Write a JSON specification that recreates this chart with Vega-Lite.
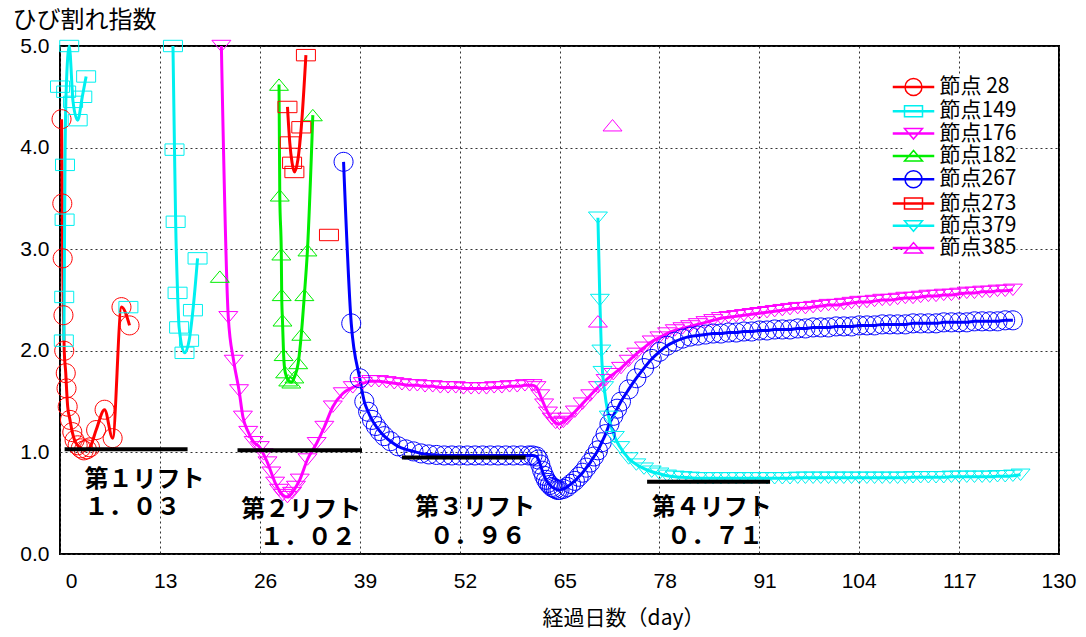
{
"$schema": "https://vega.github.io/schema/vega-lite/v6.json",
"width": 999, "height": 508,
"autosize": "none",
"padding": {"left": 60, "top": 46, "right": 27, "bottom": 83},
"background": "white",
"config": {
 "view": {"stroke": "#000", "strokeWidth": 2},
 "axis": {"domain": false, "ticks": false, "gridColor": "#333", "gridDash": [2,3], "gridWidth": 1, "gridOpacity": 1, "labelFont": "Liberation Sans", "labelFontSize": 21, "labelColor": "#000", "titleFont": "Noto Sans CJK JP", "titleFontWeight": "normal", "titleColor": "#000"}
},
"datasets": {
 "pts": [
  {"s":"節点 28","g":"28a","day":0.2,"value":4.28},{"s":"節点 28","g":"28a","day":0.3,"value":3.45},{"s":"節点 28","g":"28a","day":0.35,"value":2.91},{"s":"節点 28","g":"28a","day":0.45,"value":2.35},{"s":"節点 28","g":"28a","day":0.55,"value":2.0},{"s":"節点 28","g":"28a","day":0.75,"value":1.78},{"s":"節点 28","g":"28a","day":0.85,"value":1.63},{"s":"節点 28","g":"28a","day":1.0,"value":1.45},{"s":"節点 28","g":"28a","day":1.3,"value":1.32},{"s":"節点 28","g":"28a","day":1.6,"value":1.2},{"s":"節点 28","g":"28a","day":1.9,"value":1.12},{"s":"節点 28","g":"28a","day":2.3,"value":1.07},{"s":"節点 28","g":"28a","day":2.7,"value":1.04},{"s":"節点 28","g":"28a","day":3.1,"value":1.02},{"s":"節点 28","g":"28a","day":3.5,"value":1.03},{"s":"節点 28","g":"28a","day":3.9,"value":1.05},{"s":"節点 28","g":"28a","day":4.7,"value":1.22},{"s":"節点 28","g":"28a","day":5.8,"value":1.42},{"s":"節点 28","g":"28a","day":6.85,"value":1.14},{"s":"節点 28","g":"28a","day":8.0,"value":2.43},{"s":"節点 28","g":"28a","day":9.05,"value":2.25},
  {"s":"節点149","g":"149a","day":0.5,"value":2.1},{"s":"節点149","g":"149a","day":0.55,"value":2.53},{"s":"節点149","g":"149a","day":0.6,"value":3.29},{"s":"節点149","g":"149a","day":0.65,"value":3.83},{"s":"節点149","g":"149a","day":0.8,"value":4.55},{"s":"節点149","g":"149a","day":1.2,"value":5.0},{"s":"節点149","g":"149a","day":1.7,"value":4.45},{"s":"節点149","g":"149a","day":2.3,"value":4.27},{"s":"節点149","g":"149a","day":2.9,"value":4.5},{"s":"節点149","g":"149a","day":3.4,"value":4.7},
  {"s":"節点149","g":"149b","day":0.0,"value":4.6},
  {"s":"節点149","g":"149c","day":8.9,"value":2.43},
  {"s":"節点149","g":"149d","day":14.7,"value":5.0},{"s":"節点149","g":"149d","day":14.9,"value":3.98},{"s":"節点149","g":"149d","day":15.05,"value":3.27},{"s":"節点149","g":"149d","day":15.3,"value":2.57},{"s":"節点149","g":"149d","day":15.5,"value":2.23},{"s":"節点149","g":"149d","day":16.2,"value":1.98},{"s":"節点149","g":"149d","day":16.8,"value":2.1},{"s":"節点149","g":"149d","day":17.3,"value":2.4},{"s":"節点149","g":"149d","day":17.9,"value":2.91},
  {"s":"節点176","g":"176a","day":21.0,"value":5.0},{"s":"節点176","g":"176a","day":21.9,"value":2.33},{"s":"節点176","g":"176a","day":22.6,"value":1.9},{"s":"節点176","g":"176a","day":23.3,"value":1.61},{"s":"節点176","g":"176a","day":23.8,"value":1.35},{"s":"節点176","g":"176a","day":24.5,"value":1.2},{"s":"節点176","g":"176a","day":25.2,"value":1.1},{"s":"節点176","g":"176a","day":26.0,"value":1.05},{"s":"節点176","g":"176a","day":26.5,"value":0.98},{"s":"節点176","g":"176a","day":27.0,"value":0.9},{"s":"節点176","g":"176a","day":27.5,"value":0.8},{"s":"節点176","g":"176a","day":28.0,"value":0.7},{"s":"節点176","g":"176a","day":28.5,"value":0.63},{"s":"節点176","g":"176a","day":29.0,"value":0.58},{"s":"節点176","g":"176a","day":29.6,"value":0.56},{"s":"節点176","g":"176a","day":30.2,"value":0.6},{"s":"節点176","g":"176a","day":30.7,"value":0.66},{"s":"節点176","g":"176a","day":31.2,"value":0.73},{"s":"節点176","g":"176a","day":32.2,"value":0.93},{"s":"節点176","g":"176a","day":33.4,"value":1.09},{"s":"節点176","g":"176a","day":34.4,"value":1.25},{"s":"節点176","g":"176a","day":35.5,"value":1.45},{"s":"節点176","g":"176a","day":36.8,"value":1.58},{"s":"節点176","g":"176a","day":38.1,"value":1.64},{"s":"節点176","g":"176a","day":39.4,"value":1.68},{"s":"節点176","g":"176a","day":40.5,"value":1.7},{"s":"節点176","g":"176a","day":41.5,"value":1.7},{"s":"節点176","g":"176a","day":42.5,"value":1.69},{"s":"節点176","g":"176a","day":43.5,"value":1.68},{"s":"節点176","g":"176a","day":44.5,"value":1.67},{"s":"節点176","g":"176a","day":45.5,"value":1.66},{"s":"節点176","g":"176a","day":46.5,"value":1.66},{"s":"節点176","g":"176a","day":47.5,"value":1.65},{"s":"節点176","g":"176a","day":48.5,"value":1.65},{"s":"節点176","g":"176a","day":49.5,"value":1.64},{"s":"節点176","g":"176a","day":50.5,"value":1.64},{"s":"節点176","g":"176a","day":51.5,"value":1.64},{"s":"節点176","g":"176a","day":52.5,"value":1.63},{"s":"節点176","g":"176a","day":53.5,"value":1.63},{"s":"節点176","g":"176a","day":54.5,"value":1.63},{"s":"節点176","g":"176a","day":55.5,"value":1.63},{"s":"節点176","g":"176a","day":56.5,"value":1.64},{"s":"節点176","g":"176a","day":57.5,"value":1.64},{"s":"節点176","g":"176a","day":58.5,"value":1.65},{"s":"節点176","g":"176a","day":59.5,"value":1.65},{"s":"節点176","g":"176a","day":60.5,"value":1.66},{"s":"節点176","g":"176a","day":61.5,"value":1.66},{"s":"節点176","g":"176a","day":62.0,"value":1.64},{"s":"節点176","g":"176a","day":62.5,"value":1.56},{"s":"節点176","g":"176a","day":63.0,"value":1.47},{"s":"節点176","g":"176a","day":63.5,"value":1.39},{"s":"節点176","g":"176a","day":64.0,"value":1.33},{"s":"節点176","g":"176a","day":64.5,"value":1.29},{"s":"節点176","g":"176a","day":65.0,"value":1.28},{"s":"節点176","g":"176a","day":65.5,"value":1.3},{"s":"節点176","g":"176a","day":66.0,"value":1.33},{"s":"節点176","g":"176a","day":67.0,"value":1.4},{"s":"節点176","g":"176a","day":68.0,"value":1.48},{"s":"節点176","g":"176a","day":69.0,"value":1.56},{"s":"節点176","g":"176a","day":70.0,"value":1.64},{"s":"節点176","g":"176a","day":71.0,"value":1.71},{"s":"節点176","g":"176a","day":72.0,"value":1.77},{"s":"節点176","g":"176a","day":73.0,"value":1.83},{"s":"節点176","g":"176a","day":74.0,"value":1.9},{"s":"節点176","g":"176a","day":75.0,"value":1.97},{"s":"節点176","g":"176a","day":76.0,"value":2.03},{"s":"節点176","g":"176a","day":77.0,"value":2.09},{"s":"節点176","g":"176a","day":78.0,"value":2.13},{"s":"節点176","g":"176a","day":79.0,"value":2.17},{"s":"節点176","g":"176a","day":80.0,"value":2.2},{"s":"節点176","g":"176a","day":81.0,"value":2.22},{"s":"節点176","g":"176a","day":82.0,"value":2.24},{"s":"節点176","g":"176a","day":83.0,"value":2.26},{"s":"節点176","g":"176a","day":84.0,"value":2.28},{"s":"節点176","g":"176a","day":85.0,"value":2.3},{"s":"節点176","g":"176a","day":86.0,"value":2.32},{"s":"節点176","g":"176a","day":87.0,"value":2.33},{"s":"節点176","g":"176a","day":88.0,"value":2.34},{"s":"節点176","g":"176a","day":89.0,"value":2.35},{"s":"節点176","g":"176a","day":90.0,"value":2.36},{"s":"節点176","g":"176a","day":91.0,"value":2.37},{"s":"節点176","g":"176a","day":92.0,"value":2.38},{"s":"節点176","g":"176a","day":93.0,"value":2.39},{"s":"節点176","g":"176a","day":94.0,"value":2.4},{"s":"節点176","g":"176a","day":95.0,"value":2.41},{"s":"節点176","g":"176a","day":96.0,"value":2.42},{"s":"節点176","g":"176a","day":97.0,"value":2.42},{"s":"節点176","g":"176a","day":98.0,"value":2.43},{"s":"節点176","g":"176a","day":99.0,"value":2.44},{"s":"節点176","g":"176a","day":100.0,"value":2.45},{"s":"節点176","g":"176a","day":101.0,"value":2.45},{"s":"節点176","g":"176a","day":102.0,"value":2.46},{"s":"節点176","g":"176a","day":103.0,"value":2.47},{"s":"節点176","g":"176a","day":104.0,"value":2.48},{"s":"節点176","g":"176a","day":105.0,"value":2.48},{"s":"節点176","g":"176a","day":106.0,"value":2.49},{"s":"節点176","g":"176a","day":107.0,"value":2.5},{"s":"節点176","g":"176a","day":108.0,"value":2.5},{"s":"節点176","g":"176a","day":109.0,"value":2.51},{"s":"節点176","g":"176a","day":110.0,"value":2.52},{"s":"節点176","g":"176a","day":111.0,"value":2.52},{"s":"節点176","g":"176a","day":112.0,"value":2.53},{"s":"節点176","g":"176a","day":113.0,"value":2.54},{"s":"節点176","g":"176a","day":114.0,"value":2.54},{"s":"節点176","g":"176a","day":115.0,"value":2.55},{"s":"節点176","g":"176a","day":116.0,"value":2.55},{"s":"節点176","g":"176a","day":117.0,"value":2.56},{"s":"節点176","g":"176a","day":118.0,"value":2.57},{"s":"節点176","g":"176a","day":119.0,"value":2.57},{"s":"節点176","g":"176a","day":120.0,"value":2.58},{"s":"節点176","g":"176a","day":121.0,"value":2.58},{"s":"節点176","g":"176a","day":122.0,"value":2.59},{"s":"節点176","g":"176a","day":123.0,"value":2.59},{"s":"節点176","g":"176a","day":124.0,"value":2.6},
  {"s":"節点182","g":"182a","day":28.5,"value":4.62},{"s":"節点182","g":"182a","day":28.6,"value":3.53},{"s":"節点182","g":"182a","day":28.8,"value":2.95},{"s":"節点182","g":"182a","day":28.85,"value":2.55},{"s":"節点182","g":"182a","day":28.95,"value":2.3},{"s":"節点182","g":"182a","day":29.1,"value":1.96},{"s":"節点182","g":"182a","day":29.3,"value":1.79},{"s":"節点182","g":"182a","day":29.7,"value":1.71},{"s":"節点182","g":"182a","day":30.1,"value":1.69},{"s":"節点182","g":"182a","day":30.5,"value":1.74},{"s":"節点182","g":"182a","day":31.0,"value":1.88},{"s":"節点182","g":"182a","day":31.4,"value":2.16},{"s":"節点182","g":"182a","day":31.8,"value":2.55},{"s":"節点182","g":"182a","day":32.2,"value":2.99},{"s":"節点182","g":"182a","day":32.9,"value":4.32},
  {"s":"節点182","g":"182b","day":20.8,"value":2.73},
  {"s":"節点267","g":"267a","day":36.9,"value":3.86},{"s":"節点267","g":"267a","day":37.9,"value":2.27},{"s":"節点267","g":"267a","day":39.0,"value":1.73},{"s":"節点267","g":"267a","day":39.6,"value":1.5},{"s":"節点267","g":"267a","day":40.1,"value":1.4},{"s":"節点267","g":"267a","day":40.6,"value":1.32},{"s":"節点267","g":"267a","day":41.1,"value":1.26},{"s":"節点267","g":"267a","day":41.6,"value":1.21},{"s":"節点267","g":"267a","day":42.2,"value":1.16},{"s":"節点267","g":"267a","day":43.0,"value":1.11},{"s":"節点267","g":"267a","day":44.0,"value":1.06},{"s":"節点267","g":"267a","day":45.0,"value":1.03},{"s":"節点267","g":"267a","day":46.0,"value":1.01},{"s":"節点267","g":"267a","day":47.0,"value":0.99},{"s":"節点267","g":"267a","day":48.0,"value":0.98},{"s":"節点267","g":"267a","day":49.0,"value":0.975},{"s":"節点267","g":"267a","day":50.0,"value":0.97},{"s":"節点267","g":"267a","day":51.0,"value":0.97},{"s":"節点267","g":"267a","day":52.0,"value":0.97},{"s":"節点267","g":"267a","day":53.0,"value":0.97},{"s":"節点267","g":"267a","day":54.0,"value":0.97},{"s":"節点267","g":"267a","day":55.0,"value":0.97},{"s":"節点267","g":"267a","day":56.0,"value":0.97},{"s":"節点267","g":"267a","day":57.0,"value":0.97},{"s":"節点267","g":"267a","day":58.0,"value":0.97},{"s":"節点267","g":"267a","day":59.0,"value":0.97},{"s":"節点267","g":"267a","day":60.0,"value":0.97},{"s":"節点267","g":"267a","day":61.0,"value":0.97},{"s":"節点267","g":"267a","day":61.5,"value":0.97},{"s":"節点267","g":"267a","day":62.0,"value":0.96},{"s":"節点267","g":"267a","day":62.25,"value":0.93},{"s":"節点267","g":"267a","day":62.5,"value":0.88},{"s":"節点267","g":"267a","day":62.75,"value":0.82},{"s":"節点267","g":"267a","day":63.0,"value":0.77},{"s":"節点267","g":"267a","day":63.25,"value":0.73},{"s":"節点267","g":"267a","day":63.5,"value":0.7},{"s":"節点267","g":"267a","day":63.75,"value":0.68},{"s":"節点267","g":"267a","day":64.0,"value":0.66},{"s":"節点267","g":"267a","day":64.25,"value":0.65},{"s":"節点267","g":"267a","day":64.5,"value":0.64},{"s":"節点267","g":"267a","day":64.75,"value":0.63},{"s":"節点267","g":"267a","day":65.0,"value":0.63},{"s":"節点267","g":"267a","day":65.5,"value":0.64},{"s":"節点267","g":"267a","day":66.0,"value":0.66},{"s":"節点267","g":"267a","day":66.5,"value":0.69},{"s":"節点267","g":"267a","day":67.0,"value":0.72},{"s":"節点267","g":"267a","day":67.5,"value":0.76},{"s":"節点267","g":"267a","day":68.0,"value":0.8},{"s":"節点267","g":"267a","day":68.5,"value":0.85},{"s":"節点267","g":"267a","day":69.0,"value":0.9},{"s":"節点267","g":"267a","day":69.5,"value":0.96},{"s":"節点267","g":"267a","day":70.0,"value":1.02},{"s":"節点267","g":"267a","day":70.5,"value":1.1},{"s":"節点267","g":"267a","day":71.0,"value":1.18},{"s":"節点267","g":"267a","day":71.5,"value":1.28},{"s":"節点267","g":"267a","day":72.0,"value":1.36},{"s":"節点267","g":"267a","day":72.5,"value":1.43},{"s":"節点267","g":"267a","day":73.0,"value":1.5},{"s":"節点267","g":"267a","day":74.0,"value":1.62},{"s":"節点267","g":"267a","day":75.0,"value":1.73},{"s":"節点267","g":"267a","day":76.0,"value":1.83},{"s":"節点267","g":"267a","day":77.0,"value":1.92},{"s":"節点267","g":"267a","day":78.0,"value":1.99},{"s":"節点267","g":"267a","day":79.0,"value":2.05},{"s":"節点267","g":"267a","day":80.0,"value":2.09},{"s":"節点267","g":"267a","day":81.0,"value":2.12},{"s":"節点267","g":"267a","day":82.0,"value":2.14},{"s":"節点267","g":"267a","day":83.0,"value":2.15},{"s":"節点267","g":"267a","day":84.0,"value":2.16},{"s":"節点267","g":"267a","day":85.0,"value":2.17},{"s":"節点267","g":"267a","day":86.0,"value":2.17},{"s":"節点267","g":"267a","day":87.0,"value":2.18},{"s":"節点267","g":"267a","day":88.0,"value":2.18},{"s":"節点267","g":"267a","day":89.0,"value":2.19},{"s":"節点267","g":"267a","day":90.0,"value":2.19},{"s":"節点267","g":"267a","day":91.0,"value":2.2},{"s":"節点267","g":"267a","day":92.0,"value":2.2},{"s":"節点267","g":"267a","day":93.0,"value":2.21},{"s":"節点267","g":"267a","day":94.0,"value":2.21},{"s":"節点267","g":"267a","day":95.0,"value":2.21},{"s":"節点267","g":"267a","day":96.0,"value":2.22},{"s":"節点267","g":"267a","day":97.0,"value":2.22},{"s":"節点267","g":"267a","day":98.0,"value":2.23},{"s":"節点267","g":"267a","day":99.0,"value":2.23},{"s":"節点267","g":"267a","day":100.0,"value":2.23},{"s":"節点267","g":"267a","day":101.0,"value":2.24},{"s":"節点267","g":"267a","day":102.0,"value":2.24},{"s":"節点267","g":"267a","day":103.0,"value":2.24},{"s":"節点267","g":"267a","day":104.0,"value":2.25},{"s":"節点267","g":"267a","day":105.0,"value":2.25},{"s":"節点267","g":"267a","day":106.0,"value":2.25},{"s":"節点267","g":"267a","day":107.0,"value":2.26},{"s":"節点267","g":"267a","day":108.0,"value":2.26},{"s":"節点267","g":"267a","day":109.0,"value":2.26},{"s":"節点267","g":"267a","day":110.0,"value":2.26},{"s":"節点267","g":"267a","day":111.0,"value":2.27},{"s":"節点267","g":"267a","day":112.0,"value":2.27},{"s":"節点267","g":"267a","day":113.0,"value":2.27},{"s":"節点267","g":"267a","day":114.0,"value":2.27},{"s":"節点267","g":"267a","day":115.0,"value":2.28},{"s":"節点267","g":"267a","day":116.0,"value":2.28},{"s":"節点267","g":"267a","day":117.0,"value":2.28},{"s":"節点267","g":"267a","day":118.0,"value":2.28},{"s":"節点267","g":"267a","day":119.0,"value":2.29},{"s":"節点267","g":"267a","day":120.0,"value":2.29},{"s":"節点267","g":"267a","day":121.0,"value":2.29},{"s":"節点267","g":"267a","day":122.0,"value":2.29},{"s":"節点267","g":"267a","day":123.0,"value":2.3},{"s":"節点267","g":"267a","day":124.0,"value":2.3},
  {"s":"節点273","g":"273a","day":29.6,"value":4.4},{"s":"節点273","g":"273a","day":29.9,"value":4.05},{"s":"節点273","g":"273a","day":30.2,"value":3.85},{"s":"節点273","g":"273a","day":30.5,"value":3.76},{"s":"節点273","g":"273a","day":31.4,"value":4.2},{"s":"節点273","g":"273a","day":32.0,"value":4.91},
  {"s":"節点273","g":"273b","day":35.0,"value":3.14},
  {"s":"節点379","g":"379a","day":70.0,"value":3.31},{"s":"節点379","g":"379a","day":70.25,"value":2.5},{"s":"節点379","g":"379a","day":70.45,"value":2.0},{"s":"節点379","g":"379a","day":70.6,"value":1.79},{"s":"節点379","g":"379a","day":70.8,"value":1.64},{"s":"節点379","g":"379a","day":71.4,"value":1.35},{"s":"節点379","g":"379a","day":72.2,"value":1.15},{"s":"節点379","g":"379a","day":72.9,"value":1.05},{"s":"節点379","g":"379a","day":74.0,"value":0.94},{"s":"節点379","g":"379a","day":75.0,"value":0.88},{"s":"節点379","g":"379a","day":76.0,"value":0.84},{"s":"節点379","g":"379a","day":77.0,"value":0.81},{"s":"節点379","g":"379a","day":78.0,"value":0.79},{"s":"節点379","g":"379a","day":79.0,"value":0.77},{"s":"節点379","g":"379a","day":80.0,"value":0.76},{"s":"節点379","g":"379a","day":81.0,"value":0.755},{"s":"節点379","g":"379a","day":82.0,"value":0.75},{"s":"節点379","g":"379a","day":83.0,"value":0.745},{"s":"節点379","g":"379a","day":84.0,"value":0.745},{"s":"節点379","g":"379a","day":85.0,"value":0.745},{"s":"節点379","g":"379a","day":86.0,"value":0.745},{"s":"節点379","g":"379a","day":87.0,"value":0.745},{"s":"節点379","g":"379a","day":88.0,"value":0.745},{"s":"節点379","g":"379a","day":89.0,"value":0.745},{"s":"節点379","g":"379a","day":90.0,"value":0.745},{"s":"節点379","g":"379a","day":91.0,"value":0.745},{"s":"節点379","g":"379a","day":92.0,"value":0.745},{"s":"節点379","g":"379a","day":93.0,"value":0.745},{"s":"節点379","g":"379a","day":94.0,"value":0.745},{"s":"節点379","g":"379a","day":95.0,"value":0.745},{"s":"節点379","g":"379a","day":96.0,"value":0.75},{"s":"節点379","g":"379a","day":97.0,"value":0.75},{"s":"節点379","g":"379a","day":98.0,"value":0.75},{"s":"節点379","g":"379a","day":99.0,"value":0.75},{"s":"節点379","g":"379a","day":100.0,"value":0.75},{"s":"節点379","g":"379a","day":101.0,"value":0.75},{"s":"節点379","g":"379a","day":102.0,"value":0.75},{"s":"節点379","g":"379a","day":103.0,"value":0.75},{"s":"節点379","g":"379a","day":104.0,"value":0.75},{"s":"節点379","g":"379a","day":105.0,"value":0.75},{"s":"節点379","g":"379a","day":106.0,"value":0.75},{"s":"節点379","g":"379a","day":107.0,"value":0.75},{"s":"節点379","g":"379a","day":108.0,"value":0.75},{"s":"節点379","g":"379a","day":109.0,"value":0.75},{"s":"節点379","g":"379a","day":110.0,"value":0.75},{"s":"節点379","g":"379a","day":111.0,"value":0.755},{"s":"節点379","g":"379a","day":112.0,"value":0.755},{"s":"節点379","g":"379a","day":113.0,"value":0.755},{"s":"節点379","g":"379a","day":114.0,"value":0.755},{"s":"節点379","g":"379a","day":115.0,"value":0.755},{"s":"節点379","g":"379a","day":116.0,"value":0.76},{"s":"節点379","g":"379a","day":117.0,"value":0.76},{"s":"節点379","g":"379a","day":118.0,"value":0.76},{"s":"節点379","g":"379a","day":119.0,"value":0.76},{"s":"節点379","g":"379a","day":120.0,"value":0.76},{"s":"節点379","g":"379a","day":121.0,"value":0.76},{"s":"節点379","g":"379a","day":122.0,"value":0.765},{"s":"節点379","g":"379a","day":123.0,"value":0.765},{"s":"節点379","g":"379a","day":124.0,"value":0.77},{"s":"節点379","g":"379a","day":125.0,"value":0.78},
  {"s":"節点385","g":"385a","day":70.0,"value":2.29},
  {"s":"節点385","g":"385b","day":71.9,"value":4.22}
 ],
 "lifts": [
  {"day":0.6,"day2":16.6,"value":1.03},
  {"day":23.1,"day2":39.3,"value":1.02},
  {"day":44.5,"day2":60.6,"value":0.95},
  {"day":76.4,"day2":92.4,"value":0.71}
 ],
 "notes": [
  {"day":3.2,"value":0.73,"t":"第１リフト"},
  {"day":3.2,"value":0.45,"t":"１．０３"},
  {"day":23.6,"value":0.43,"t":"第２リフト"},
  {"day":26.0,"value":0.16,"t":"１．０２"},
  {"day":46.2,"value":0.45,"t":"第３リフト"},
  {"day":48.1,"value":0.17,"t":"０．９６"},
  {"day":77.0,"value":0.45,"t":"第４リフト"},
  {"day":79.0,"value":0.17,"t":"０．７１"}
 ]
},
"encoding": {
 "x": {"field": "day", "type": "quantitative", "scale": {"domain": [0,130], "nice": false, "zero": false},
  "axis": {"values": [0,13,26,39,52,65,78,91,104,117,130], "labelAlign": "right", "labelOffset": 17, "labelPadding": 16, "title": "経過日数（day）", "titleFontSize": 21, "titleX": 563, "titleY": 64, "titleBaseline": "middle", "titleAlign": "center"}},
 "y": {"field": "value", "type": "quantitative", "scale": {"domain": [0,5], "nice": false},
  "axis": {"values": [0,1,2,3,4,5], "format": ".1f", "labelPadding": 11, "title": "ひび割れ指数", "titleAngle": 0, "titleFontSize": 24, "titleX": -48, "titleY": -26, "titleAlign": "left", "titleBaseline": "middle"}}
},
"layer": [
 {
  "data": {"name": "pts"},
  "mark": {"type": "line", "strokeWidth": 3, "interpolate": "monotone", "clip": false},
  "encoding": {
   "color": {"field": "s", "type": "nominal",
    "scale": {"domain": ["節点 28","節点149","節点176","節点182","節点267","節点273","節点379","節点385"], "range": ["#ff0000","#00f0f0","#ff00ff","#00ee00","#0000ff","#ff0000","#00f0f0","#ff00ff"]},
    "legend": null},
   "detail": {"field": "g", "type": "nominal"}
  }
 },
 {
  "data": {"name": "pts"},
  "mark": {"type": "point", "filled": false, "strokeWidth": 1, "size": 361, "opacity": 1, "clip": false},
  "encoding": {
   "color": {"field": "s", "type": "nominal",
    "scale": {"domain": ["節点 28","節点149","節点176","節点182","節点267","節点273","節点379","節点385"], "range": ["#ff0000","#00f0f0","#ff00ff","#00ee00","#0000ff","#ff0000","#00f0f0","#ff00ff"]},
    "legend": null},
   "shape": {"field": "s", "type": "nominal",
    "scale": {"domain": ["節点 28","節点149","節点176","節点182","節点267","節点273","節点379","節点385"], "range": ["M-1,0A1,1 0 1,1 1,0A1,1 0 1,1 -1,0Z","M-1,-0.6H1V0.6H-1Z","M-1,-0.6H1L0,0.6Z","M-1,0.6H1L0,-0.6Z","M-1,0A1,1 0 1,1 1,0A1,1 0 1,1 -1,0Z","M-1,-0.6H1V0.6H-1Z","M-1,-0.6H1L0,0.6Z","M-1,0.6H1L0,-0.6Z"]},
    "legend": null}
  }
 },
 {
  "data": {"values": []},
  "mark": {"type": "point", "filled": false, "strokeWidth": 1.5, "size": 400, "opacity": 1},
  "encoding": {
   "color": {"field": "s", "type": "nominal",
    "scale": {"domain": ["節点 28","節点149","節点176","節点182","節点267","節点273","節点379","節点385"], "range": ["#ff0000","#00f0f0","#ff00ff","#00ee00","#0000ff","#ff0000","#00f0f0","#ff00ff"]},
    "legend": {"orient": "none", "legendX": 842.5, "legendY": 30, "title": null, "symbolSize": 400, "symbolStrokeWidth": 1.5, "labelFontSize": 21, "labelColor": "#000", "labelFont": "Noto Sans CJK JP", "rowPadding": 1.3, "padding": 0, "labelOffset": 15, "fillColor": "white"}},
   "shape": {"field": "s", "type": "nominal",
    "scale": {"domain": ["節点 28","節点149","節点176","節点182","節点267","節点273","節点379","節点385"], "range": ["M-2,-0.05H2V0.05H-2ZM-0.85,0A0.85,0.85 0 1,1 0.85,0A0.85,0.85 0 1,1 -0.85,0Z","M-2,-0.05H2V0.05H-2ZM-0.9,-0.55H0.9V0.55H-0.9Z","M-2,-0.05H2V0.05H-2ZM-0.9,-0.5H0.9L0,0.55Z","M-2,-0.05H2V0.05H-2ZM-0.9,0.5L0,-0.55L0.9,0.5Z","M-2,-0.05H2V0.05H-2ZM-0.85,0A0.85,0.85 0 1,1 0.85,0A0.85,0.85 0 1,1 -0.85,0Z","M-2,-0.05H2V0.05H-2ZM-0.9,-0.55H0.9V0.55H-0.9Z","M-2,-0.05H2V0.05H-2ZM-0.9,-0.5H0.9L0,0.55Z","M-2,-0.05H2V0.05H-2ZM-0.9,0.5L0,-0.55L0.9,0.5Z"]},
    "legend": {"orient": "none", "legendX": 842.5, "legendY": 30, "title": null, "symbolSize": 400, "symbolStrokeWidth": 1.5, "labelFontSize": 21, "labelColor": "#000", "labelFont": "Noto Sans CJK JP", "rowPadding": 1.3, "padding": 0, "labelOffset": 15, "fillColor": "white"}}
  }
 },
 {
  "data": {"name": "lifts"},
  "mark": {"type": "rule", "strokeWidth": 4, "color": "#000"},
  "encoding": {"x2": {"field": "day2"}}
 },
 {
  "data": {"name": "notes"},
  "mark": {"type": "text", "align": "left", "baseline": "middle", "font": "Noto Sans CJK JP", "fontSize": 24, "fontWeight": "bold", "color": "#000"},
  "encoding": {"text": {"field": "t", "type": "nominal"}}
 }
],
"resolve": {"scale": {"color": "independent", "shape": "independent"}}
}
